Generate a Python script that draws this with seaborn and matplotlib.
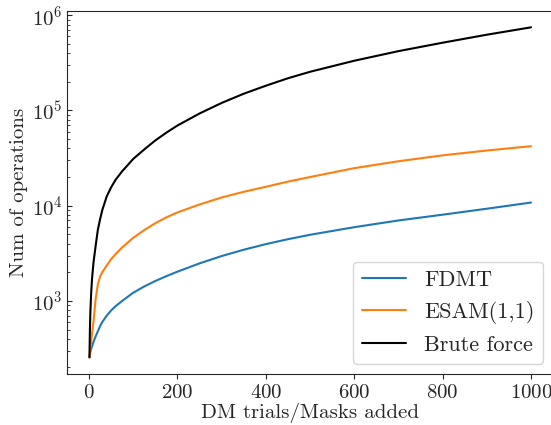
import numpy as np
import pandas as pd
import seaborn as sns
import matplotlib
matplotlib.use("Agg")
import matplotlib.pyplot as plt

# values
x_vals = [1, 2, 3, 5, 7, 10, 15, 20, 25, 30, 40, 50, 60, 75, 100, 125, 150, 175, 200,
          250, 300, 350, 400, 450, 500, 600, 700, 800, 900, 1000]
fdmt = [256, 275, 290, 315, 335, 370, 425, 480, 545, 600, 700, 795, 880, 1000, 1220, 1420, 1620, 1820, 2030,
        2480, 2960, 3450, 3950, 4450, 4950, 5950, 7000, 8050, 9300, 10800]
esam = [256, 290, 320, 380, 460, 600, 1050, 1500, 1800, 2000, 2350, 2750, 3100, 3650, 4600, 5550, 6550, 7550, 8500,
        10300, 12200, 14000, 15800, 17900, 20000, 24800, 29300, 33800, 38000, 42200]
brute = [256, 500, 750, 1250, 1750, 2500, 3800, 5600, 7200, 9000, 12500, 15600, 18700, 23000, 31000, 39000, 48500, 58500, 69500,
         93000, 120000, 150000, 182000, 218000, 255000, 333000, 420000, 515000, 625000, 747000]
labels = ["FDMT", "ESAM(1,1)", "Brute force"]
colors = ["#1f77b4", "#ff7f0e", "black"]

sns.set_style("ticks")
plt.rcParams["font.family"] = ["cmr10", "DejaVu Serif"]
plt.rcParams["mathtext.fontset"] = "cm"
plt.rcParams["axes.formatter.use_mathtext"] = True
plt.rcParams["font.size"] = 15
plt.rcParams["ytick.direction"] = "in"
plt.rcParams["ytick.minor.visible"] = True

fig = plt.figure(figsize=(5.51, 4.25), dpi=100)
ax = fig.add_axes([0.1223, 0.1205, 0.8815, 0.854])

for ys, lab, c in zip([fdmt, esam, brute], labels, colors):
    sns.lineplot(x=x_vals, y=ys, color=c, label=lab, linewidth=1.5, ax=ax)

ax.set_yscale("log")
ax.set_xticks([0, 200, 400, 600, 800, 1000])
ax.tick_params(labelsize=15)
ax.set_xlabel("DM trials/Masks added", fontsize=15, labelpad=1)
ax.set_ylabel("Num of operations", fontsize=15, labelpad=3)
ax.legend(loc="lower right", fontsize=16, borderaxespad=0.45)

fig.savefig("out.png", dpi=100)
